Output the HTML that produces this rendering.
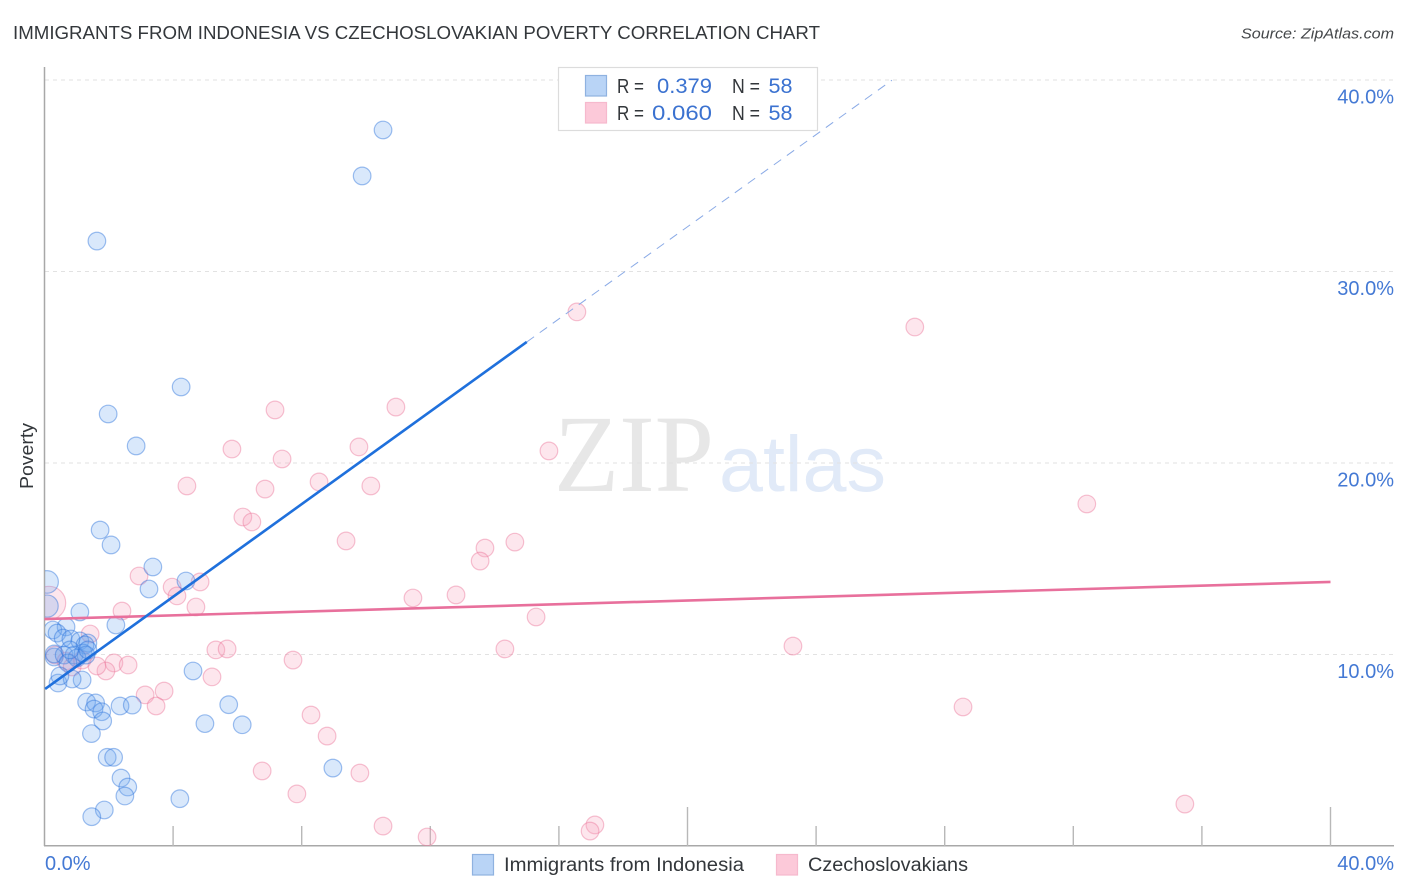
<!DOCTYPE html>
<html lang="en">
<head>
<meta charset="utf-8">
<title>Immigrants from Indonesia vs Czechoslovakian Poverty Correlation Chart</title>
<style>
html,body{margin:0;padding:0;background:#fff;width:1406px;height:892px;overflow:hidden}
svg{display:block;font-family:"Liberation Sans",sans-serif}
</style>
</head>
<body>
<svg id="chart" width="1406" height="892" viewBox="0 0 1406 892" xmlns="http://www.w3.org/2000/svg">
  <defs><clipPath id="plot-clip"><rect x="45" y="60" width="1349" height="786"/></clipPath></defs>
  <rect x="0" y="0" width="1406" height="892" fill="#fff"/>
  <text x="13" y="39" font-size="18" fill="#33373b" textLength="807" lengthAdjust="spacingAndGlyphs">IMMIGRANTS FROM INDONESIA VS CZECHOSLOVAKIAN POVERTY CORRELATION CHART</text>
  <text x="1241" y="38.5" font-size="15" font-style="italic" fill="#44474a" textLength="153" lengthAdjust="spacingAndGlyphs">Source: ZipAtlas.com</text>
  <g>
    <text x="554" y="491" font-family="'Liberation Serif',serif" font-size="110" fill="#e7e7e7" textLength="160" lengthAdjust="spacingAndGlyphs">ZIP</text>
    <text x="719" y="491" font-size="79" fill="#e1eaf8" textLength="167" lengthAdjust="spacingAndGlyphs">atlas</text>
  </g>
  <g id="grid"></g>
  <g id="axes"></g>
  <g id="points" clip-path="url(#plot-clip)"></g>
  <g id="trends"></g>
  <g id="tick-labels"></g>
  <text transform="translate(33,489) rotate(-90)" font-size="18" fill="#33373b" textLength="66" lengthAdjust="spacingAndGlyphs">Poverty</text>

  <g>
    <rect x="558.5" y="67.5" width="259" height="63" fill="#fff" stroke="#dcdcdc" stroke-width="1.2"/>
    <rect x="585.5" y="75.5" width="21" height="20.5" fill="#b9d4f6" stroke="#8fb2e0" stroke-width="1.2"/>
    <rect x="585.5" y="102.5" width="21" height="20.5" fill="#fcc9d9" stroke="#f6b9cd" stroke-width="1.2"/>
    <g font-size="20" fill="#33373b">
      <text x="617" y="93" textLength="27" lengthAdjust="spacingAndGlyphs">R =</text>
      <text x="617" y="120" textLength="27" lengthAdjust="spacingAndGlyphs">R =</text>
      <text x="732" y="93" textLength="28" lengthAdjust="spacingAndGlyphs">N =</text>
      <text x="732" y="120" textLength="28" lengthAdjust="spacingAndGlyphs">N =</text>
    </g>
    <g font-size="21" fill="#3b72d0">
      <text x="657" y="93" textLength="55" lengthAdjust="spacingAndGlyphs">0.379</text>
      <text x="652" y="120" textLength="60" lengthAdjust="spacingAndGlyphs">0.060</text>
      <text x="768.5" y="93" textLength="24" lengthAdjust="spacingAndGlyphs">58</text>
      <text x="768.5" y="120" textLength="24" lengthAdjust="spacingAndGlyphs">58</text>
    </g>
  </g>

  <g>
    <g>
      <rect x="472.5" y="854.5" width="21" height="20.5" fill="#b9d4f6" stroke="#8fb2e0" stroke-width="1.2"/>
      <text x="504" y="871" font-size="19" fill="#33373b" textLength="240" lengthAdjust="spacingAndGlyphs">Immigrants from Indonesia</text>
    </g>
    <g>
      <rect x="776.5" y="854.5" width="21" height="20.5" fill="#fcc9d9" stroke="#f6b9cd" stroke-width="1.2"/>
      <text x="808" y="871" font-size="19" fill="#33373b" textLength="160" lengthAdjust="spacingAndGlyphs">Czechoslovakians</text>
    </g>
  </g>
</svg>
<script>
// ----- chart data -----
const indonesiaX = [10.53,9.88,1.63,4.25,1.98,2.85,1.73,2.07,3.37,0.08,4.40,3.25,0.08,1.10,2.22,0.67,0.26,0.39,0.58,0.82,1.10,1.35,1.26,0.30,0.30,0.61,0.92,1.20,1.29,1.01,0.73,1.17,0.42,0.86,0.48,4.62,1.31,1.59,1.54,1.78,1.81,1.46,2.35,2.73,5.73,4.99,6.15,1.95,2.15,2.38,2.59,2.50,4.21,1.86,1.47,8.97,0.79,1.35];
const indonesiaY = [37.39,34.99,31.59,23.97,22.56,20.89,16.50,15.72,14.57,13.79,13.84,13.42,12.53,12.22,11.54,11.44,11.28,11.12,10.86,10.81,10.71,10.60,10.50,9.87,10.03,9.97,9.97,10.08,9.97,9.82,9.56,8.67,8.51,8.72,8.88,9.14,7.52,7.47,7.15,7.01,6.53,5.87,7.31,7.36,7.38,6.39,6.33,4.63,4.63,3.55,3.08,2.61,2.47,1.88,1.53,4.07,10.24,10.24];
const indonesiaWeight = [1,1,1,1,1,1,1,1,1,1.65,1,1,1.6,1,1,1,1,1,1,1,1,1,1,1,1,1,1,1,1,1,1,1,1,1,1,1,1,1,1,1,1,1,1,1,1,1,1,1,1,1,1,1,1,1,1,1,1,1];
const czechX = [16.56,27.07,7.17,10.93,5.83,9.78,15.69,7.39,4.43,6.86,8.54,10.15,32.42,6.17,6.45,9.38,14.63,13.70,13.55,2.94,3.97,4.84,4.12,11.46,12.80,4.71,2.41,15.29,0.14,1.42,5.33,5.68,14.32,23.28,7.73,2.16,2.60,1.91,1.63,5.21,28.57,3.13,3.72,3.47,8.29,8.79,6.77,9.81,7.85,35.47,10.53,11.90,17.12,16.97,0.33,0.67,0.86,1.17];
const czechY = [27.89,27.10,22.77,22.92,20.73,20.84,20.63,20.21,18.80,18.64,19.01,18.80,17.86,17.18,16.92,15.93,15.87,15.56,14.88,14.10,13.52,13.79,13.06,12.95,13.11,12.48,12.27,11.96,12.69,11.07,10.24,10.29,10.29,10.44,9.71,9.56,9.45,9.14,9.40,8.83,7.26,7.89,8.09,7.31,6.84,5.74,3.92,3.81,2.72,2.19,1.04,0.47,1.10,0.78,9.97,9.66,9.35,9.71];
const czechWeight = [1,1,1,1,1,1,1,1,1,1,1,1,1,1,1,1,1,1,1,1,1,1,1,1,1,1,1,1,3.6,1,1,1,1,1,1,1,1,1,1,1,1,1,1,1,1,1,1,1,1,1,1,1,1,1,1,1,1,1];
const indonesiaTrendX = [0.02,15.0];
const indonesiaTrendY = [8.2,26.32];
const indonesiaProjectionX = [15.0,26.36];
const indonesiaProjectionY = [26.32,39.99];
const czechTrendX = [0,40];
const czechTrendY = [11.85,13.79];
const yTicks = [10,20,30,40];
const yTickLabels = ["10.0%","20.0%","30.0%","40.0%"];
const xTicks = [4,8,12,16,20,24,28,32,36,40];
const xMajorTicks = [20,40];
const xEdgeLabels = ["0.0%","40.0%"];

// ----- axis functions -----
const xScale = v => 44.5 + v * 32.15;
const yScale = v => 846 - v * 19.15;
const NS = "http://www.w3.org/2000/svg";
function make(tag, attrs, parent) {
  const el = document.createElementNS(NS, tag);
  for (const k in attrs) el.setAttribute(k, attrs[k]);
  parent.appendChild(el);
  return el;
}
const gridG = document.getElementById("grid");
const axesG = document.getElementById("axes");
const pointsG = document.getElementById("points");
const trendsG = document.getElementById("trends");
const labelsG = document.getElementById("tick-labels");











// gridlines and y labels
yTicks.forEach((t, i) => {
  const y = yScale(t);
  const line = make("line", {x1: 45, x2: 1394, y1: y, y2: y, stroke: "#e2e2e2", "stroke-width": 1, "stroke-dasharray": "4 4"}, gridG);
  
  
  const label = make("text", {x: 1394, y: y + 23.5, "text-anchor": "end", "font-size": 20, fill: "#4479d4"}, labelsG);
  
  
  label.textContent = yTickLabels[i];
});

// axes
const yAxis = make("line", {x1: 44.5, x2: 44.5, y1: 67, y2: 846, stroke: "#a8a8a8", "stroke-width": 1.5}, axesG);


const xAxis = make("line", {x1: 44, x2: 1394, y1: 845.8, y2: 845.8, stroke: "#a8a8a8", "stroke-width": 1.5}, axesG);


xTicks.forEach(t => {
  const x = xScale(t);
  const top = xMajorTicks.includes(t) ? 807 : 826;
  const tick = make("line", {x1: x, x2: x, y1: top, y2: 846, stroke: "#b8b8b8", "stroke-width": 1.4}, axesG);
  
  
});
const xLabelMin = make("text", {x: 45, y: 870, "font-size": 20, fill: "#4479d4"}, labelsG);


xLabelMin.textContent = xEdgeLabels[0];
const xLabelMax = make("text", {x: 1394, y: 870, "text-anchor": "end", "font-size": 20, fill: "#4479d4"}, labelsG);


xLabelMax.textContent = xEdgeLabels[1];

// scatter points
czechX.forEach((v, i) => {
  const c = make("circle", {cx: xScale(v), cy: yScale(czechY[i]), r: 8.8 * Math.sqrt(czechWeight[i]), fill: "rgba(248,165,190,0.28)", stroke: "rgba(236,120,155,0.45)", "stroke-width": 1.2}, pointsG);
  
  
});
indonesiaX.forEach((v, i) => {
  const c = make("circle", {cx: xScale(v), cy: yScale(indonesiaY[i]), r: 8.8 * Math.sqrt(indonesiaWeight[i]), fill: "rgba(110,165,240,0.26)", stroke: "rgba(45,115,220,0.45)", "stroke-width": 1.2}, pointsG);
  
  
});

// trend lines
const projection = make("line", {x1: xScale(indonesiaProjectionX[0]), y1: yScale(indonesiaProjectionY[0]), x2: xScale(indonesiaProjectionX[1]), y2: yScale(indonesiaProjectionY[1]), stroke: "#8aaae6", "stroke-width": 1, "stroke-dasharray": "9 7"}, trendsG);


const trendPink = make("line", {x1: xScale(czechTrendX[0]), y1: yScale(czechTrendY[0]), x2: xScale(czechTrendX[1]), y2: yScale(czechTrendY[1]), stroke: "#e8709c", "stroke-width": 2.6}, trendsG);


const trendBlue = make("line", {x1: xScale(indonesiaTrendX[0]), y1: yScale(indonesiaTrendY[0]), x2: xScale(indonesiaTrendX[1]), y2: yScale(indonesiaTrendY[1]), stroke: "#1f70dc", "stroke-width": 2.6}, trendsG);


</script>
</body>
</html>
